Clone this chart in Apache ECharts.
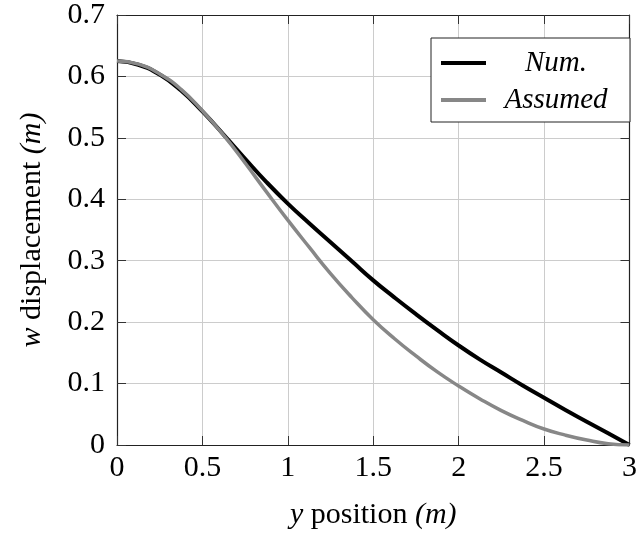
<!DOCTYPE html>
<html>
<head>
<meta charset="utf-8">
<script src="https://cdn.jsdelivr.net/npm/echarts@6/dist/echarts.min.js"></script>
<style>html,body{margin:0;padding:0;background:#fff}#c{width:640px;height:535px}</style>
</head>
<body>
<div id="c"></div>
<script>
// y position (m)
var xPos = [0, 0.125, 0.25, 0.375, 0.5, 0.625, 0.75, 0.875, 1, 1.125, 1.25, 1.375, 1.5, 1.625, 1.75, 1.875, 2, 2.125, 2.25, 2.375, 2.5, 2.625, 2.75, 2.875, 3];
// Num. displacement (m)
var numVals = [0.625, 0.619, 0.603, 0.577, 0.543, 0.505, 0.466, 0.428, 0.393, 0.361, 0.330, 0.299, 0.268, 0.240, 0.213, 0.187, 0.162, 0.139, 0.118, 0.097, 0.077, 0.057, 0.038, 0.019, 0.0];
// Assumed displacement (m)
var assumedVals = [0.625, 0.620, 0.604, 0.579, 0.544, 0.504, 0.459, 0.412, 0.366, 0.322, 0.279, 0.240, 0.204, 0.173, 0.145, 0.119, 0.096, 0.075, 0.056, 0.040, 0.026, 0.016, 0.008, 0.002, 0.0];
var seriesNames = ['Num.', 'Assumed'];
var xTickLabels = ['0', '0.5', '1', '1.5', '2', '2.5', '3'];
var yTickLabels = ['0', '0.1', '0.2', '0.3', '0.4', '0.5', '0.6', '0.7'];

function pairs(xs, ys) { return xs.map(function (x, i) { return [x, ys[i]]; }); }

var FONT = '"Liberation Serif", "DejaVu Serif", serif';
var FS = 30;
var chart = echarts.init(document.getElementById('c'), null, {renderer: 'canvas'});
var tickStyle = {show: true, inside: true, length: 9, lineStyle: {color: '#333', width: 1}};
var lineAx = {show: true, onZero: false, lineStyle: {color: '#222', width: 1.2}};
chart.setOption({
  animation: false,
  backgroundColor: '#fff',
  grid: {left: 117, right: 8, top: 15, bottom: 89, containLabel: false},
  legend: {
    data: seriesNames,
    orient: 'vertical',
    right: 10, top: 38,
    backgroundColor: '#fff',
    borderColor: '#222', borderWidth: 1,
    padding: [10, 9, 7, 10],
    itemWidth: 45, itemHeight: 4, itemGap: 7, icon: 'rect',
    formatter: function (n) { return '{a|' + n + '}'; },
    textStyle: {fontFamily: FONT, fontSize: 29, color: '#000', lineHeight: 30,
      rich: {a: {fontFamily: FONT, fontSize: 29, fontStyle: 'italic', width: 130, align: 'center', lineHeight: 30, color: '#000'}}}
  },
  xAxis: [{
    type: 'value', min: 0, max: 3, interval: 0.5,
    name: '{i|y} position {i|(m)}', nameLocation: 'middle', nameGap: 55,
    nameTextStyle: {fontFamily: FONT, fontSize: FS, color: '#000',
      rich: {i: {fontFamily: FONT, fontSize: FS, fontStyle: 'italic', color: '#000'}}},
    axisLine: lineAx, axisTick: tickStyle,
    axisLabel: {margin: 8, fontFamily: FONT, fontSize: FS, color: '#000',
      formatter: function (v) { return xTickLabels[Math.round(v / 0.5)]; }},
    splitLine: {show: true, lineStyle: {color: '#cccccc', width: 1}}
  }, {
    type: 'value', min: 0, max: 3, interval: 0.5, position: 'top',
    axisLine: lineAx, axisTick: tickStyle, axisLabel: {show: false}, splitLine: {show: false}
  }],
  yAxis: [{
    type: 'value', min: 0, max: 0.7, interval: 0.1,
    name: '{i|w} displacement {i|(m)}', nameLocation: 'middle', nameGap: 70, nameRotate: 90,
    nameTextStyle: {fontFamily: FONT, fontSize: FS, color: '#000',
      rich: {i: {fontFamily: FONT, fontSize: FS, fontStyle: 'italic', color: '#000'}}},
    axisLine: lineAx, axisTick: tickStyle,
    axisLabel: {margin: 12, fontFamily: FONT, fontSize: FS, color: '#000',
      formatter: function (v) { return yTickLabels[Math.round(v / 0.1)]; }},
    splitLine: {show: true, lineStyle: {color: '#cccccc', width: 1}}
  }, {
    type: 'value', min: 0, max: 0.7, interval: 0.1, position: 'right',
    axisLine: lineAx, axisTick: tickStyle, axisLabel: {show: false}, splitLine: {show: false}
  }],
  series: [{
    name: seriesNames[0], type: 'line', smooth: true, symbol: 'none',
    data: pairs(xPos, numVals), color: '#000',
    lineStyle: {color: '#000', width: 4}
  }, {
    name: seriesNames[1], type: 'line', smooth: true, symbol: 'none',
    data: pairs(xPos, assumedVals), color: '#878787',
    lineStyle: {color: '#878787', width: 3.5}
  }]
});
</script>
</body>
</html>
